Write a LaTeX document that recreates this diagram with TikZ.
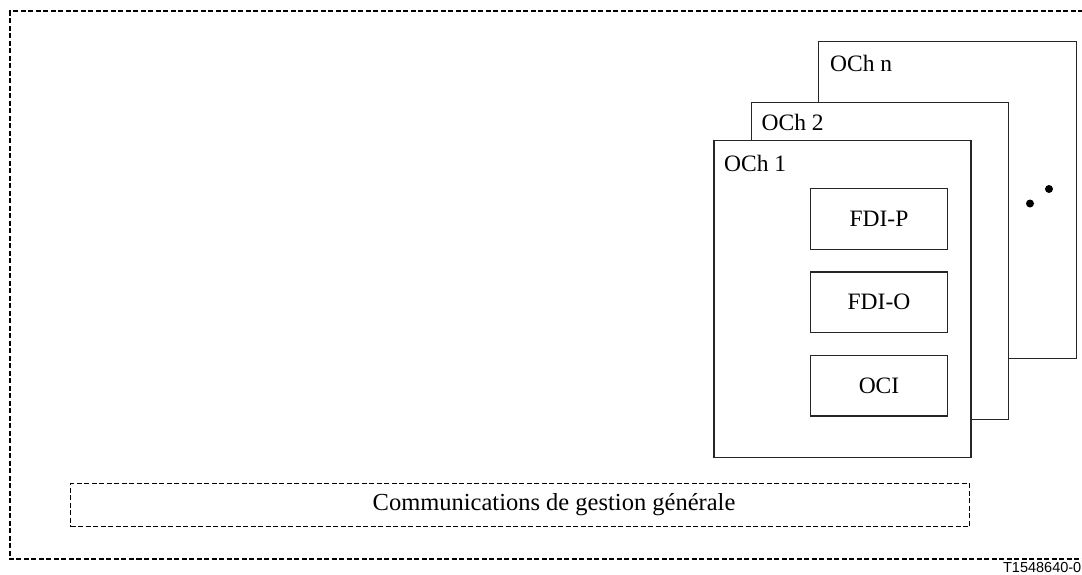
\documentclass[tikz,border=0pt]{standalone}
\usepackage{fontspec}
\setmainfont{Liberation Serif}
\newfontfamily\figsans{Liberation Sans}
\begin{document}
\begin{tikzpicture}[x=1pt,y=-1pt,
  box/.style={draw=black!85, line width=1.3pt, fill=white},
  frame/.style={draw=black, line width=1.8pt, dash pattern=on 5pt off 2.5pt},
  lbl/.style={font=\fontsize{23.5}{26}\selectfont, inner sep=0pt},
  dotmark/.style={circle, fill=black, inner sep=0pt, minimum size=8pt}]
\useasboundingbox (0,0) rectangle (1082,574);
% outer frame (right side outside the picture)
\draw[frame] (1083,11) -- (10,11) -- (10,559) -- (1083,559);
% channel stack
\node[box, anchor=north west, minimum width=258pt, minimum height=317pt] (ochn) at (818,41) {};
\node[lbl, anchor=base west] (ochnl) at (830,71.5) {OCh n};
\node[box, anchor=north west, minimum width=257pt, minimum height=317pt] (och2) at (750.7,101.7) {};
\node[lbl, anchor=base west] (och2l) at (761.5,130) {OCh 2};
\node[box, anchor=north west, minimum width=257pt, minimum height=317pt] (och1) at (713.3,139.5) {};
\node[lbl, anchor=base west] (och1l) at (724,171.5) {OCh 1};
\node[box, lbl, minimum width=136.5pt, minimum height=60.5pt] (fdip) at (879,219) {FDI-P};
\node[box, lbl, minimum width=136.5pt, minimum height=60.5pt] (fdio) at (879,302.3) {FDI-O};
\node[box, lbl, minimum width=136.5pt, minimum height=60.5pt] (oci) at (879,385.7) {OCI};
\node[dotmark] (d1) at (1030,203.5) {};
\node[dotmark] (d2) at (1049,189) {};
% general management communications
\node[frame, minimum width=899pt, minimum height=43pt, inner sep=0pt] (gmc) at (520,505) {};
\node[lbl, font=\fontsize{24.5}{27}\selectfont] (gmcl) at (554,505) {Communications de gestion générale};
\node[font=\figsans\fontsize{14.5}{16}\selectfont, inner sep=0pt, anchor=base east] (ref) at (1081.5,572.5) {T1548640-0};
\end{tikzpicture}
\end{document}
